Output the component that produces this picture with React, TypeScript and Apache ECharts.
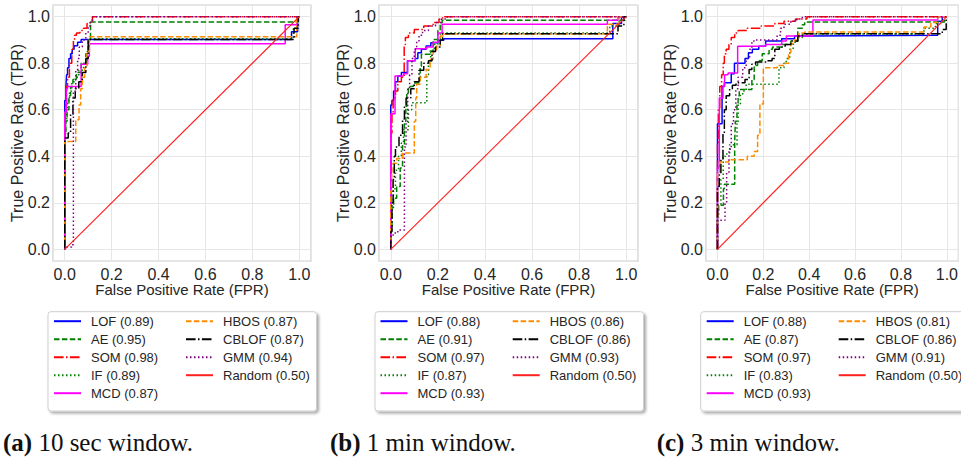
import React, { useEffect, useRef } from 'react';
import * as echarts from 'echarts';

// ---------- data ----------
const methods = ['LOF', 'AE', 'SOM', 'IF', 'MCD', 'HBOS', 'CBLOF', 'GMM', 'Random'];
const aucA = ['0.89', '0.95', '0.98', '0.89', '0.87', '0.87', '0.87', '0.94', '0.50'];
const aucB = ['0.88', '0.91', '0.97', '0.87', '0.93', '0.86', '0.86', '0.93', '0.50'];
const aucC = ['0.88', '0.87', '0.97', '0.83', '0.93', '0.81', '0.86', '0.91', '0.50'];
const captionTags = ['(a)', '(b)', '(c)'];
const captionTexts = ['10 sec window.', '1 min window.', '3 min window.'];
const axisTitleX = 'False Positive Rate (FPR)';
const axisTitleY = 'True Positive Rate (TPR)';

// ROC vertices [FPR, TPR] (drawn as steps: up first, then right)
// panel (a) 10 sec window
const LOF_A = [[0,0],[0.005,0.64],[0.008,0.70],[0.012,0.75],[0.018,0.78],[0.025,0.82],[0.032,0.84],[0.04,0.86],[0.055,0.875],[0.07,0.89],[0.967,0.902],[0.993,0.935],[1,1]];
const AE_A = [[0,0],[0.005,0.5],[0.01,0.55],[0.018,0.6],[0.025,0.66],[0.035,0.7],[0.05,0.73],[0.07,0.76],[0.09,0.8],[0.1,0.84],[0.11,0.9],[0.118,0.977],[0.995,0.977],[1,1]];
const SOM_A = [[0,0],[0.003,0.5],[0.008,0.62],[0.012,0.70],[0.02,0.74],[0.03,0.8],[0.037,0.86],[0.042,0.9],[0.05,0.92],[0.065,0.93],[0.08,0.94],[0.095,0.95],[0.108,0.97],[0.118,0.98],[1,1]];
const IF_A = [[0,0],[0.004,0.48],[0.008,0.55],[0.012,0.6],[0.02,0.64],[0.03,0.68],[0.045,0.72],[0.06,0.74],[0.08,0.77],[0.095,0.8],[0.105,0.85],[0.115,0.905],[0.975,0.905],[0.99,0.95],[1,1]];
const MCD_A = [[0,0],[0.007,0.59],[0.012,0.69],[0.07,0.70],[0.098,0.795],[0.105,0.83],[0.12,0.884],[0.94,0.884],[0.99,0.965],[1,1]];
const HBOS_A = [[0,0],[0.047,0.464],[0.061,0.557],[0.068,0.62],[0.075,0.69],[0.085,0.74],[0.095,0.78],[0.105,0.85],[0.115,0.914],[0.989,0.914],[1,1]];
const CBLOF_A = [[0,0],[0.015,0.478],[0.025,0.5],[0.035,0.58],[0.045,0.65],[0.06,0.69],[0.075,0.72],[0.09,0.76],[0.1,0.82],[0.112,0.902],[0.978,0.902],[0.996,0.95],[1,1]];
const GMM_A = [[0,0],[0.03,0.01],[0.037,0.02],[0.047,0.68],[0.055,0.77],[0.062,0.82],[0.075,0.87],[0.09,0.9],[0.1,0.93],[0.11,0.96],[0.12,0.985],[0.13,1],[1,1]];

// panel (b) 1 min window
const LOF_B = [[0,0],[0.005,0.62],[0.012,0.64],[0.02,0.68],[0.03,0.72],[0.045,0.745],[0.071,0.76],[0.104,0.81],[0.115,0.82],[0.13,0.845],[0.15,0.86],[0.17,0.874],[0.2,0.888],[0.225,0.898],[0.943,0.905],[0.98,0.97],[1,1]];
const AE_B = [[0,0],[0.005,0.1],[0.012,0.18],[0.025,0.22],[0.04,0.27],[0.05,0.35],[0.058,0.45],[0.064,0.55],[0.068,0.615],[0.075,0.672],[0.096,0.7],[0.125,0.715],[0.13,0.787],[0.167,0.838],[0.18,0.852],[0.2,0.902],[0.21,0.94],[0.218,0.974],[0.995,0.985],[1,1]];
const SOM_B = [[0,0],[0.005,0.5],[0.01,0.58],[0.02,0.65],[0.03,0.68],[0.045,0.72],[0.057,0.74],[0.062,0.88],[0.075,0.91],[0.1,0.93],[0.14,0.945],[0.18,0.96],[0.205,0.975],[0.22,0.99],[1,1]];
const IF_B = [[0,0],[0.005,0.08],[0.011,0.18],[0.02,0.26],[0.033,0.34],[0.045,0.4],[0.054,0.457],[0.075,0.514],[0.089,0.6],[0.104,0.63],[0.153,0.63],[0.16,0.75],[0.17,0.8],[0.185,0.85],[0.2,0.88],[0.21,0.9],[0.225,0.93],[0.93,0.93],[0.97,0.96],[1,1]];
const MCD_B = [[0,0],[0.018,0.583],[0.054,0.745],[0.071,0.755],[0.104,0.81],[0.153,0.862],[0.18,0.87],[0.2,0.89],[0.218,0.93],[0.92,0.967],[0.965,0.985],[1,1]];
const HBOS_B = [[0,0],[0.004,0.25],[0.01,0.33],[0.025,0.37],[0.05,0.39],[0.1,0.414],[0.106,0.55],[0.11,0.65],[0.125,0.71],[0.15,0.74],[0.167,0.773],[0.18,0.816],[0.195,0.85],[0.21,0.874],[0.23,0.917],[0.92,0.925],[0.97,0.967],[1,1]];
const CBLOF_B = [[0,0],[0.005,0.076],[0.01,0.2],[0.015,0.3],[0.02,0.4],[0.035,0.44],[0.05,0.49],[0.058,0.56],[0.065,0.62],[0.085,0.65],[0.1,0.69],[0.12,0.72],[0.14,0.77],[0.16,0.8],[0.175,0.81],[0.19,0.85],[0.21,0.87],[0.22,0.9],[0.235,0.927],[0.965,0.927],[0.99,0.96],[1,1]];
const GMM_B = [[0,0],[0.01,0.055],[0.03,0.07],[0.058,0.083],[0.065,0.44],[0.072,0.55],[0.08,0.69],[0.09,0.75],[0.1,0.82],[0.11,0.86],[0.12,0.895],[0.135,0.92],[0.16,0.94],[0.19,0.96],[0.215,0.975],[0.24,0.99],[0.26,1],[1,1]];

// panel (c) 3 min window
const LOF_C = [[0,0],[0.02,0.54],[0.03,0.7],[0.06,0.716],[0.074,0.755],[0.12,0.8],[0.135,0.82],[0.152,0.845],[0.18,0.86],[0.21,0.873],[0.28,0.895],[0.336,0.905],[0.395,0.917],[0.96,0.92],[0.98,0.98],[1,1]];
const AE_C = [[0,0],[0.005,0.15],[0.026,0.19],[0.03,0.26],[0.075,0.28],[0.078,0.46],[0.085,0.55],[0.09,0.62],[0.095,0.66],[0.15,0.687],[0.16,0.73],[0.175,0.79],[0.195,0.81],[0.225,0.84],[0.24,0.86],[0.28,0.87],[0.32,0.88],[0.35,0.895],[0.37,0.95],[0.38,0.965],[0.4,0.977],[0.99,0.977],[1,1]];
const SOM_C = [[0,0],[0.004,0.45],[0.01,0.6],[0.018,0.7],[0.025,0.75],[0.03,0.8],[0.038,0.84],[0.05,0.86],[0.06,0.88],[0.075,0.91],[0.09,0.93],[0.13,0.94],[0.19,0.95],[0.25,0.96],[0.29,0.97],[0.34,0.98],[0.39,0.99],[0.41,1],[1,1]];
const IF_C = [[0,0],[0.004,0.13],[0.015,0.19],[0.025,0.3],[0.035,0.4],[0.053,0.41],[0.085,0.45],[0.09,0.54],[0.1,0.62],[0.11,0.665],[0.125,0.68],[0.268,0.71],[0.29,0.78],[0.3,0.8],[0.315,0.82],[0.33,0.86],[0.35,0.89],[0.37,0.91],[0.9,0.925],[0.95,0.95],[0.98,0.97],[1,1]];
const MCD_C = [[0,0],[0.008,0.35],[0.024,0.65],[0.031,0.70],[0.046,0.75],[0.088,0.758],[0.21,0.873],[0.28,0.88],[0.3,0.895],[0.416,0.917],[0.96,0.986],[1,1]];
const HBOS_C = [[0,0],[0.01,0.33],[0.05,0.375],[0.13,0.385],[0.16,0.4],[0.175,0.42],[0.185,0.49],[0.2,0.625],[0.26,0.78],[0.295,0.79],[0.31,0.8],[0.32,0.845],[0.335,0.885],[0.355,0.9],[0.38,0.93],[0.9,0.934],[0.93,0.955],[0.96,0.975],[1,1]];
const CBLOF_C = [[0,0],[0.008,0.27],[0.015,0.32],[0.024,0.385],[0.03,0.5],[0.038,0.6],[0.053,0.66],[0.065,0.69],[0.081,0.705],[0.12,0.716],[0.138,0.73],[0.15,0.773],[0.166,0.795],[0.215,0.805],[0.238,0.81],[0.25,0.82],[0.27,0.86],[0.295,0.87],[0.32,0.88],[0.35,0.895],[0.37,0.917],[0.98,0.927],[0.997,0.945],[1,1]];
const GMM_C = [[0,0],[0.033,0.125],[0.04,0.2],[0.05,0.33],[0.06,0.43],[0.07,0.54],[0.08,0.6],[0.09,0.69],[0.11,0.74],[0.125,0.78],[0.14,0.82],[0.15,0.86],[0.16,0.895],[0.26,0.9],[0.275,0.92],[0.29,0.95],[0.32,0.967],[0.345,0.98],[0.37,0.99],[0.42,1],[1,1]];

const RANDOM = [[0,0],[1,1]];

const panelCurves = [
  [LOF_A, AE_A, SOM_A, IF_A, MCD_A, HBOS_A, CBLOF_A, GMM_A, RANDOM],
  [LOF_B, AE_B, SOM_B, IF_B, MCD_B, HBOS_B, CBLOF_B, GMM_B, RANDOM],
  [LOF_C, AE_C, SOM_C, IF_C, MCD_C, HBOS_C, CBLOF_C, GMM_C, RANDOM],
];
const panelAucs = [aucA, aucB, aucC];

// ---------- styles ----------
const DASHED = [5.5, 2.4];
const DASHDOT = [9.6, 2.4, 1.5, 2.4];
const DOTTED = [1.5, 2.5];
const methodStyle: Record<string, any> = {
  LOF: { color: '#0000ff', type: 'solid', width: 1.5 },
  AE: { color: '#008000', type: DASHED, width: 1.5 },
  SOM: { color: '#ff0000', type: DASHDOT, width: 1.5 },
  IF: { color: '#008000', type: DOTTED, width: 1.5 },
  MCD: { color: '#ff00ff', type: 'solid', width: 1.5 },
  HBOS: { color: '#ff8c00', type: DASHED, width: 1.5 },
  CBLOF: { color: '#000000', type: DASHDOT, width: 1.5 },
  GMM: { color: '#800080', type: DOTTED, width: 1.5 },
  Random: { color: '#ff2020', type: 'solid', width: 1.2 },
};

const SANS = "'Liberation Sans', Arial, Helvetica, sans-serif";
const SERIF = "'Liberation Serif', 'Times New Roman', serif";
const TEXT = '#262626';

const gridLefts = [53, 379, 706];
const gridWidths = [258, 259, 258];
const GRID_TOP = 5;
const GRID_H = 256;
const legendCol1 = [53, 379.5, 705.7];
const legendCol2 = [185, 511.7, 837.7];
const legendBoxX = [48, 375, 700.7];
const captionX = [3, 330, 656.7];

export default function App() {
  const ref = useRef<HTMLDivElement>(null);
  useEffect(() => {
    const chart = echarts.init(ref.current!, null, { renderer: 'svg' });

    const grids: any[] = [];
    const xAxes: any[] = [];
    const yAxes: any[] = [];
    const series: any[] = [];
    const legends: any[] = [];
    const graphics: any[] = [];

    for (let p = 0; p < 3; p++) {
      grids.push({
        left: gridLefts[p], top: GRID_TOP, width: gridWidths[p], height: GRID_H,
        show: true, borderColor: '#cccccc', borderWidth: 1.25, backgroundColor: 'transparent',
        containLabel: false,
      });
      const common = {
        gridIndex: p, type: 'value', min: -0.05, max: 1.05, splitNumber: 5,
        axisLine: { show: false }, axisTick: { show: false },
        splitLine: { show: true, lineStyle: { color: '#e6e6e6', width: 1 } },
        nameLocation: 'middle', nameMoveOverlap: false,
      };
      xAxes.push({
        ...common, name: axisTitleX, nameGap: 21,
        nameTextStyle: { fontSize: 15, lineHeight: 15, color: TEXT, fontFamily: SANS },
        axisLabel: { showMinLabel: false, showMaxLabel: false, margin: 6, fontSize: 16, lineHeight: 14, color: TEXT, fontFamily: SANS,
          formatter: (v: number) => v.toFixed(1) },
      });
      yAxes.push({
        ...common, name: axisTitleY, nameGap: 28,
        nameTextStyle: { fontSize: 16, color: TEXT, fontFamily: SANS },
        axisLabel: { showMinLabel: false, showMaxLabel: false, margin: 3, fontSize: 16, color: TEXT, fontFamily: SANS,
          formatter: (v: number) => v.toFixed(1) },
      });

      const names: string[] = [];
      methods.forEach((m, i) => {
        const name = `${m} (${panelAucs[p][i]})`;
        names.push(name);
        const st = methodStyle[m];
        const isRandom = m === 'Random';
        series.push({
          id: `p${p}_${m}`,
          type: 'line', name, xAxisIndex: p, yAxisIndex: p,
          data: panelCurves[p][i],
          step: isRandom ? false : 'start',
          symbol: 'none', showSymbol: false,
          color: st.color,
          itemStyle: { color: st.color },
          lineStyle: { color: st.color, width: st.width, type: st.type, opacity: 1 },
          emphasis: { disabled: true },
          z: 2,
        });
      });

      const legendBase = {
        orient: 'vertical', top: 314.7, itemWidth: 27, itemHeight: 14, itemGap: 5, padding: 0,
        selectedMode: false, z: 10,
        itemStyle: { color: 'transparent', borderColor: 'transparent', borderWidth: 0, opacity: 0 },
        textStyle: { fontSize: 13, color: TEXT, fontFamily: SANS, padding: [0, 0, 0, 5] },
      };
      legends.push({ ...legendBase, left: legendCol1[p], data: names.slice(0, 5) });
      legends.push({ ...legendBase, left: legendCol2[p], data: names.slice(5) });

      graphics.push({
        type: 'rect', z: 1,
        shape: { x: legendBoxX[p], y: 311.7, width: 268.5, height: 99.3, r: 3 },
        style: { fill: '#ffffff', stroke: '#cfcfcf', lineWidth: 1,
          shadowBlur: 3, shadowOffsetX: 2, shadowOffsetY: 2, shadowColor: 'rgba(0,0,0,0.35)' },
      });
      graphics.push({
        type: 'text', z: 1, x: captionX[p], y: 442,
        style: {
          text: `{b|${captionTags[p]}} ${captionTexts[p]}`,
          rich: { b: { fontWeight: 'bold', fontSize: 25, fontFamily: SERIF, fill: '#111' } },
          fontSize: 25, fontFamily: SERIF, fill: '#111', verticalAlign: 'middle', align: 'left',
        },
      });
    }

    chart.setOption({
      animation: false,
      backgroundColor: '#ffffff',
      textStyle: { fontFamily: SANS },
      grid: grids, xAxis: xAxes, yAxis: yAxes, series, legend: legends, graphic: graphics,
    });
    return () => chart.dispose();
  }, []);
  return <div ref={ref} style={{ position: 'absolute', left: 0, top: 0, width: 961, height: 461 }} />;
}
